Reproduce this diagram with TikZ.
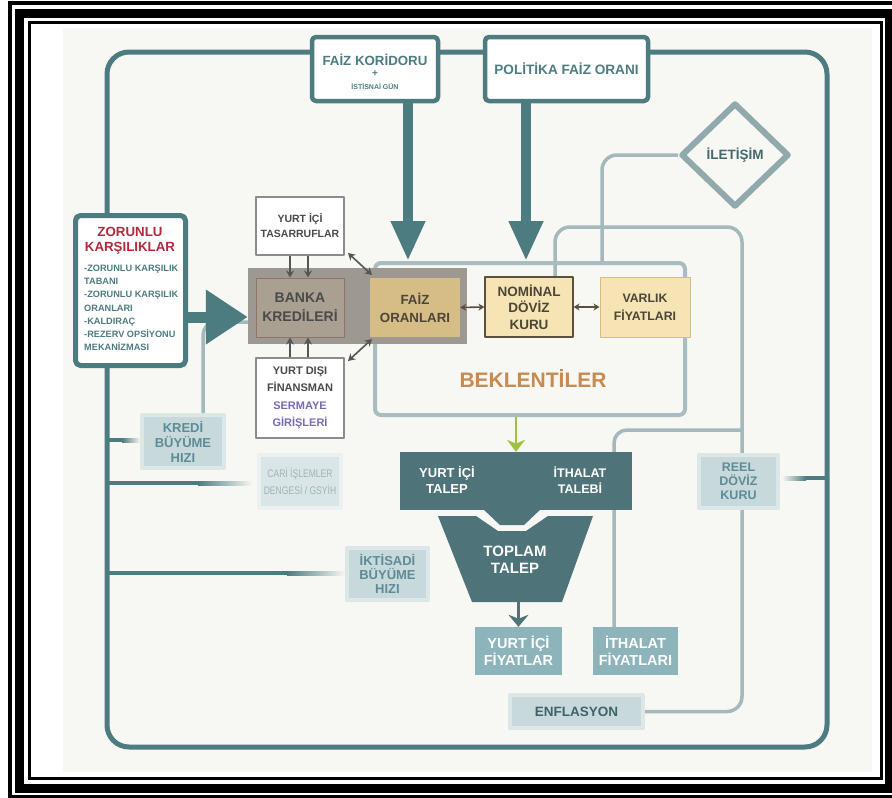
\documentclass[tikz,border=0pt]{standalone}
\usepackage{fontspec}
\setmainfont{Liberation Sans}
\usetikzlibrary{arrows.meta,shapes.geometric}
\definecolor{mteal}{HTML}{4D7C80}
\definecolor{dteal}{HTML}{4E7378}
\definecolor{llc}{HTML}{A3B9BC}
\definecolor{bekc}{HTML}{A8BDBF}
\definecolor{bgc}{HTML}{F7F7F3}
\definecolor{halo}{HTML}{DDE7E8}
\definecolor{boxl}{HTML}{C8D9DC}
\definecolor{boxp}{HTML}{D9E5E7}
\definecolor{boxm}{HTML}{8DB3BB}
\definecolor{tanl}{HTML}{F7E4B5}
\definecolor{tand}{HTML}{D6BD86}
\definecolor{txtg}{HTML}{4A4A4A}
\definecolor{txtt}{HTML}{4B4637}
\definecolor{zred}{HTML}{B22A3C}
\definecolor{purp}{HTML}{7B69B4}
\definecolor{orng}{HTML}{C78A50}
\definecolor{grn}{HTML}{9DC33E}
\definecolor{txtb}{HTML}{5D8C96}
\definecolor{txtc}{HTML}{A0B4BA}
\definecolor{arrb}{HTML}{5B503E}
\definecolor{arrg}{HTML}{555555}
\definecolor{diac}{HTML}{8FA9AC}
\definecolor{gover}{HTML}{9D9992}
\definecolor{bankf}{HTML}{A9A092}
\definecolor{bankd}{HTML}{8C766E}
\newcommand{\myfs}[2]{\fontsize{#1}{#2}\selectfont}
\pgfdeclarelayer{back}\pgfdeclarelayer{lines}\pgfsetlayers{back,lines,main}
\begin{document}
\begin{tikzpicture}[x=1pt,y=-1pt,line join=round,
 topbox/.style={draw=mteal,line width=4.5pt,fill=white,rounded corners=4pt,inner sep=0pt},
 halobox/.style={draw=halo,line width=4pt,fill=boxl,inner sep=0pt,align=center,text=txtb,font=\bfseries\myfs{13}{15}},
 whitebox/.style={draw=black!45,line width=1.2pt,fill=white,inner sep=0pt,align=center,text=txtg,font=\bfseries\myfs{10.5}{15}},
 tanbox/.style={fill=tanl,inner sep=0pt,align=center,text=txtt,font=\bfseries\myfs{12.5}{17}},
 midbox/.style={fill=boxm,inner sep=0pt,align=center,text=white,font=\bfseries\myfs{14.5}{17}},
 wtxt/.style={inner sep=0pt,align=center,text=white,font=\bfseries\myfs{13}{16.5}},
 lconn/.style={draw=llc,line width=3.5pt,rounded corners=13pt},
 bigarr/.style={draw=mteal,line width=10pt,-{Triangle[width=32pt,length=40pt]}},
 zarr/.style={draw=mteal,line width=11pt,-{Triangle[width=52pt,length=42pt]}},
 garr/.style={draw=arrg,line width=1.6pt,-{Stealth[width=8pt,length=7pt]}},
 garr2/.style={draw=arrg,line width=1.6pt,{Stealth[width=8pt,length=7pt]}-{Stealth[width=8pt,length=7pt]}},
 barr/.style={draw=arrb,line width=1.6pt,{Stealth[width=7pt,length=6pt]}-{Stealth[width=7pt,length=6pt]}},
 greenarr/.style={draw=grn,line width=2.5pt,-{Stealth[width=18pt,length=12pt]}},
 darr/.style={draw=dteal,line width=3.5pt,-{Stealth[width=20pt,length=12pt]}}]
\useasboundingbox (0,0) rectangle (892,798);

% ---------- background and frames
\begin{pgfonlayer}{back}
\fill[white] (0,0) rectangle (892,798);
\fill[bgc] (63,28) rectangle (872,772);
\draw[black,line width=4pt] (10,2.5) rectangle (896,796.5);
\draw[black,line width=9pt] (19.5,13.5) rectangle (889,788);
\draw[black,line width=3pt] (29.5,22.5) rectangle (881,778.5);
\draw[mteal,line width=5pt,rounded corners=22pt] (107,52) rectangle (827,747);
\end{pgfonlayer}

% ---------- top boxes
\node[topbox,minimum width=126pt,minimum height=64pt] (faizk) at (375,69) {};
\node[inner sep=0pt,align=center,text=mteal,font=\bfseries] (faizkt) at (375,72)
 {{\myfs{13.3}{13}FAİZ KORİDORU}\\[-1pt]{\myfs{10}{10}+}\\[1pt]{\myfs{7}{8}İSTİSNAİ GÜN}};
\node[topbox,minimum width=163pt,minimum height=64pt,text=mteal,font=\bfseries\myfs{13.6}{15}] (polit) at (566.5,69) {POLİTİKA FAİZ ORANI};

% ---------- iletisim diamond
\node[diamond,draw=diac,line width=6pt,fill=bgc,minimum width=108pt,minimum height=104pt,inner sep=0pt,
 text=mteal!85!black,font=\bfseries\myfs{13.5}{14}] (ilet) at (735,155) {İLETİŞİM};

% ---------- zorunlu karsiliklar
\node[draw=mteal,line width=5pt,fill=white,rounded corners=5pt,minimum width=110pt,minimum height=150pt] (zor) at (130.5,290.5) {};
\node[inner sep=0pt,align=center,text=zred,font=\bfseries\myfs{13.3}{15}] (zort) at (130,240.5) {ZORUNLU\\KARŞILIKLAR};
\node[inner sep=0pt,anchor=north west,align=left,text=mteal,font=\bfseries\myfs{9.2}{13.3}] (zorl) at (84,264.5)
 {-ZORUNLU KARŞILIK\\TABANI\\-ZORUNLU KARŞILIK\\ORANLARI\\-KALDIRAÇ\\-REZERV OPSİYONU\\MEKANİZMASI};

% ---------- beklentiler
\node[draw=bekc,line width=4pt,rounded corners=6pt,minimum width=310pt,minimum height=152pt] (bek) at (530,339) {};
\node[inner sep=0pt,text=orng,font=\bfseries\myfs{21}{21}] (bekt) at (533,379) {BEKLENTİLER};

% ---------- banka kredileri group
\node[fill=gover,minimum width=219pt,minimum height=76pt,inner sep=0pt] (bankabg) at (357.5,306) {};
\node[tanbox,fill=tand,minimum width=90pt,minimum height=59pt,font=\bfseries\myfs{13.3}{18}] (faizo) at (415,307.5) {FAİZ\\ORANLARI};
\node[tanbox,draw=arrb,line width=1.2pt,minimum width=88pt,minimum height=60pt,font=\bfseries\myfs{13.5}{16.5}] (nomi) at (529,307) {NOMİNAL\\DÖVİZ\\KURU};
\node[tanbox,draw=tand,line width=1pt,minimum width=90pt,minimum height=60pt,font=\bfseries\myfs{12.3}{18}] (varlik) at (645,307) {VARLIK\\FİYATLARI};
\node[fill=bankf,draw=bankd,line width=1pt,minimum width=88pt,minimum height=59pt,inner sep=0pt,align=center,
 text=txtg,font=\bfseries\myfs{14}{19}] (banka) at (300,307.5) {BANKA\\KREDİLERİ};
\node[whitebox,minimum width=88pt,minimum height=58pt] (tasar) at (300,226) {YURT İÇİ\\TASARRUFLAR};
\node[whitebox,minimum width=88pt,minimum height=80pt,font=\bfseries\myfs{11}{17.5}] (ydis) at (300,398)
 {YURT DIŞI\\FİNANSMAN\\\textcolor{purp}{SERMAYE}\\\textcolor{purp}{GİRİŞLERİ}};

% ---------- light boxes
\node[halobox,minimum width=82pt,minimum height=53pt] (kredi) at (183,441.5) {KREDİ\\BÜYÜME\\HIZI};
\node[halobox,draw=halo!60!white,fill=boxp,minimum width=82pt,minimum height=53pt,text=txtc,font=\mdseries\myfs{11}{17}] (cari) at (300,481.5)
 {\scalebox{0.78}[1]{CARİ İŞLEMLER}\\\scalebox{0.78}[1]{DENGESİ / GSYİH}};
\node[halobox,minimum width=81pt,minimum height=52pt,font=\bfseries\myfs{13}{14}] (iktis) at (387.5,574) {İKTİSADİ\\BÜYÜME\\HIZI};
\node[halobox,minimum width=79pt,minimum height=53pt,font=\bfseries\myfs{12.5}{14}] (reel) at (738.5,481.5) {REEL\\DÖVİZ\\KURU};
\node[halobox,minimum width=133pt,minimum height=33pt,text=mteal!80!black,font=\bfseries\myfs{13.5}{14}] (enf) at (576.5,711.5) {ENFLASYON};

% ---------- demand block
\node[fill=dteal,minimum width=232pt,minimum height=58pt,inner sep=0pt] (talep) at (516,481) {};
\fill[dteal] (483,509) -- (500,525) -- (524,525) -- (541,509) -- cycle;
\fill[dteal] (438,516) -- (476,516) -- (498,531) -- (526,531) -- (548,516) -- (593,516) -- (562,602) -- (472,602) -- cycle;
\node[wtxt] (yitt) at (447,480) {YURT İÇİ\\TALEP};
\node[wtxt,font=\bfseries\myfs{12.5}{16.5}] (ithtt) at (580,480) {İTHALAT\\TALEBİ};
\node[wtxt,font=\bfseries\myfs{15}{16.5}] (topt) at (515,560) {TOPLAM\\TALEP};
\coordinate (tb) at (518.5,602);

\node[midbox,minimum width=87pt,minimum height=48pt] (yfiy) at (518.5,651) {YURT İÇİ\\FİYATLAR};
\node[midbox,minimum width=85pt,minimum height=48pt,font=\bfseries\myfs{14.5}{17}] (ifiy) at (635.5,651) {İTHALAT\\FİYATLARI};

% ---------- light connectors (behind)
\coordinate (kn) at (203,413);
\coordinate (bw) at (248,322);
\coordinate (il) at (602,263);
\coordinate (nn) at (555,277);
\coordinate (n1) at (555,227);
\coordinate (r1) at (742,227);
\coordinate (rn) at (742,453);
\coordinate (rs) at (742,510);
\coordinate (fn) at (614,627);
\coordinate (fj) at (742,430);
\begin{pgfonlayer}{lines}
\draw[lconn] (kn) |- (bw);
\draw[lconn,rounded corners=15pt] (ilet.west) -| (il);
\draw[lconn,rounded corners=15pt] (nn) -- (n1) -- (r1) -- (rn);
\draw[lconn] (fn) |- (fj);
\draw[lconn,rounded corners=15pt] (enf.east) -| (rs);
% gradient links to the main frame
\fill[mteal] (107,438) rectangle (122,442);
\shade[left color=mteal,right color=bgc] (122,438) rectangle (140,442);
\fill[mteal] (107,481) rectangle (198,485);
\shade[left color=mteal,right color=bgc] (198,481) rectangle (252,485);
\fill[mteal] (107,571) rectangle (287,575);
\shade[left color=mteal,right color=bgc] (287,571) rectangle (345,575);
\shade[left color=bgc,right color=mteal] (782,476) rectangle (806,480);
\fill[mteal] (806,476) rectangle (827,480);
\end{pgfonlayer}

% ---------- arrows
\coordinate (fk) at (408,103);
\coordinate (pk) at (526,103);
\draw[bigarr] (fk) -- (fk |- bek.north);
\draw[bigarr] (pk) -- (pk |- bek.north);
\coordinate (za) at (188,317);
\draw[zarr] (za) -- (za -| bankabg.west);
\draw[garr] ([xshift=-10pt]tasar.south) -- ([xshift=-10pt]banka.north);
\draw[garr] ([xshift=8pt]tasar.south) -- ([xshift=8pt]banka.north);
\draw[garr] ([xshift=-10pt]ydis.north) -- ([xshift=-10pt]banka.south);
\draw[garr] ([xshift=8pt]ydis.north) -- ([xshift=8pt]banka.south);
\coordinate (d1a) at (348,253);
\coordinate (d1b) at (372,275);
\coordinate (d2a) at (348,361);
\coordinate (d2b) at (372,339);
\draw[garr2] (d1a) -- (d1b);
\draw[garr2] (d2a) -- (d2b);
\draw[barr] (faizo.east) -- (nomi.west);
\draw[barr] (nomi.east) -- (varlik.west);
\draw[greenarr] (talep.north |- bek.south) -- (talep.north);
\draw[darr] (tb) -- (tb |- yfiy.north);
\end{tikzpicture}
\end{document}
